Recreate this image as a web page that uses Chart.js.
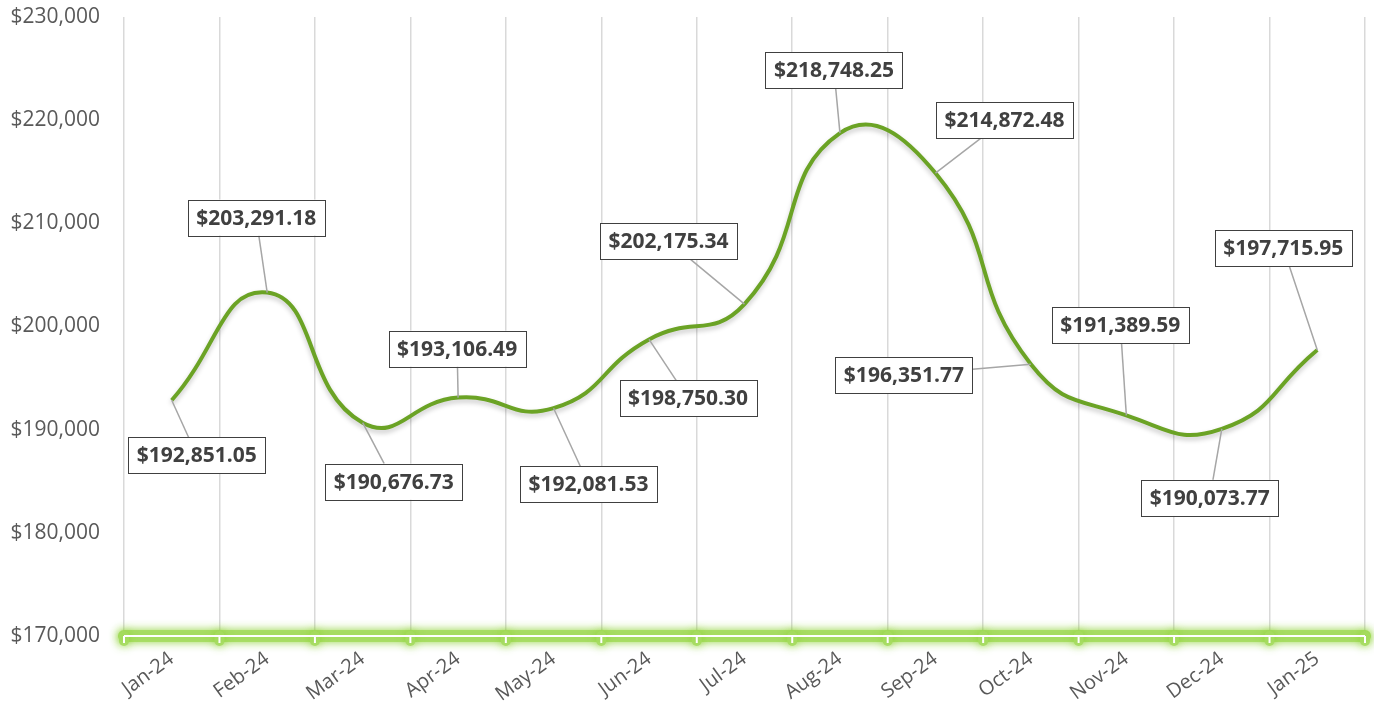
<!DOCTYPE html>
<html>
<head>
<meta charset="utf-8">
<script src="https://cdn.jsdelivr.net/npm/chart.js@4.4.1/dist/chart.umd.min.js"></script>
<style>
  html, body { margin: 0; padding: 0; background: #fff; }
  #wrap { width: 1374px; height: 714px; }
</style>
</head>
<body>
<div id="wrap"><canvas id="myChart"></canvas></div>
<script>
const months = ['Jan-24', 'Feb-24', 'Mar-24', 'Apr-24', 'May-24', 'Jun-24', 'Jul-24',
                'Aug-24', 'Sep-24', 'Oct-24', 'Nov-24', 'Dec-24', 'Jan-25'];
const totals = [192851.05, 203291.18, 190676.73, 193106.49, 192081.53, 198750.30, 202175.34,
                218748.25, 214872.48, 196351.77, 191389.59, 190073.77, 197715.95];
const yTicks = [170000, 180000, 190000, 200000, 210000, 220000, 230000];

// where each value box sits, relative to its point (px)
const labelOffsets = [[25, 55], [-11, -75], [31, 59], [-1, -49], [35, 76], [39, 59], [-76, -63],
                      [-6, -63], [69, -53], [-127, 11], [-6, -90], [-12, 69], [-34, -102]];

const money = v => '$' + v.toLocaleString('en-US');
const money2 = v => '$' + v.toLocaleString('en-US', { minimumFractionDigits: 2, maximumFractionDigits: 2 });

// soft drop shadow under the line
const lineShadow = {
    id: 'lineShadow',
    beforeDatasetDraw(chart) {
        const ctx = chart.ctx;
        ctx.save();
        ctx.shadowColor = 'rgba(0,0,0,0.22)';
        ctx.shadowBlur = 5;
        ctx.shadowOffsetY = 3;
    },
    afterDatasetDraw(chart) {
        chart.ctx.restore();
    }
};

// glowing green x axis with white tick marks
const axisGlow = {
    id: 'axisGlow',
    afterDraw(chart) {
        const ctx = chart.ctx;
        const area = chart.chartArea;
        const y = area.bottom;
        const step = (area.right - area.left) / months.length;
        ctx.save();
        ctx.lineCap = 'round';
        ctx.shadowColor = 'rgba(140,210,50,1)';
        ctx.shadowBlur = 10;
        ctx.strokeStyle = 'rgba(165,220,95,0.9)';
        ctx.lineWidth = 12;
        ctx.beginPath();
        ctx.moveTo(area.left, y);
        ctx.lineTo(area.right, y);
        ctx.stroke();
        ctx.lineWidth = 10;
        for (let i = 0; i <= months.length; i++) {
            const x = area.left + i * step;
            ctx.beginPath();
            ctx.moveTo(x, y);
            ctx.lineTo(x, y + 5);
            ctx.stroke();
        }
        ctx.shadowBlur = 0;
        ctx.shadowColor = 'transparent';
        ctx.lineCap = 'butt';
        ctx.strokeStyle = '#ffffff';
        ctx.lineWidth = 2;
        ctx.beginPath();
        ctx.moveTo(area.left, y);
        ctx.lineTo(area.right, y);
        ctx.stroke();
        for (let i = 0; i <= months.length; i++) {
            const x = area.left + i * step;
            ctx.beginPath();
            ctx.moveTo(x, y);
            ctx.lineTo(x, y + 7);
            ctx.stroke();
        }
        ctx.restore();
    }
};

// boxed value labels with leader lines
const valueBoxes = {
    id: 'valueBoxes',
    afterDatasetsDraw(chart) {
        const ctx = chart.ctx;
        const pts = chart.getDatasetMeta(0).data;
        ctx.save();
        ctx.font = 'bold 21px "Open Sans"';
        ctx.textAlign = 'center';
        ctx.textBaseline = 'middle';
        pts.forEach((p, i) => {
            const text = money2(totals[i]);
            const w = ctx.measureText(text).width + 17;
            const h = 36;
            const cx = p.x + labelOffsets[i][0];
            const cy = p.y + labelOffsets[i][1];
            const dx = cx - p.x, dy = cy - p.y;
            const t = Math.min(dx ? (w / 2) / Math.abs(dx) : Infinity, dy ? (h / 2) / Math.abs(dy) : Infinity);
            if (t < 1) {
                ctx.strokeStyle = '#a6a6a6';
                ctx.lineWidth = 1.5;
                ctx.beginPath();
                ctx.moveTo(p.x, p.y);
                ctx.lineTo(cx - dx * t, cy - dy * t);
                ctx.stroke();
            }
            ctx.fillStyle = '#ffffff';
            ctx.fillRect(cx - w / 2, cy - h / 2, w, h);
            ctx.strokeStyle = '#404040';
            ctx.lineWidth = 1;
            ctx.strokeRect(Math.round(cx - w / 2) + 0.5, Math.round(cy - h / 2) + 0.5, Math.round(w), h);
            ctx.fillStyle = '#404040';
            ctx.fillText(text, cx, cy + 1);
        });
        ctx.restore();
    }
};

const ctx = document.getElementById('myChart').getContext('2d');

new Chart(ctx, {
    type: 'line',
    data: {
        labels: months,
        datasets: [{
            label: 'Total',
            data: totals,
            borderColor: '#6ba325',
            borderWidth: 4,
            tension: 0.5,
            pointRadius: 0,
            fill: false
        }]
    },
    options: {
        responsive: true,
        maintainAspectRatio: false,
        animation: false,
        layout: { padding: { top: 17, right: 9, left: 0, bottom: 0 } },
        plugins: {
            legend: { display: false },
            tooltip: { enabled: false }
        },
        scales: {
            x: {
                offset: true,
                grid: { offset: true, color: '#d9d9d9', lineWidth: 1.5, drawTicks: false },
                border: { display: false },
                ticks: {
                    color: '#595959',
                    font: { family: 'Open Sans', size: 20 },
                    minRotation: 36,
                    maxRotation: 36,
                    padding: 11,
                    autoSkip: false
                },
                afterFit: s => {
                    s.height = 78;
                    s.paddingLeft = 0;
                    s.paddingRight = 0;
                }
            },
            y: {
                min: yTicks[0],
                max: yTicks[yTicks.length - 1],
                afterBuildTicks: s => { s.ticks = yTicks.map(v => ({ value: v })); },
                grid: { display: false, drawTicks: false },
                border: { display: false },
                ticks: {
                    color: '#595959',
                    font: { family: 'Open Sans', size: 21 },
                    padding: 24,
                    callback: v => money(v)
                },
                afterFit: s => {
                    s.width = 124;
                    s.paddingTop = 0;
                    s.paddingBottom = 0;
                }
            }
        }
    },
    plugins: [lineShadow, axisGlow, valueBoxes]
});
</script>
</body>
</html>
